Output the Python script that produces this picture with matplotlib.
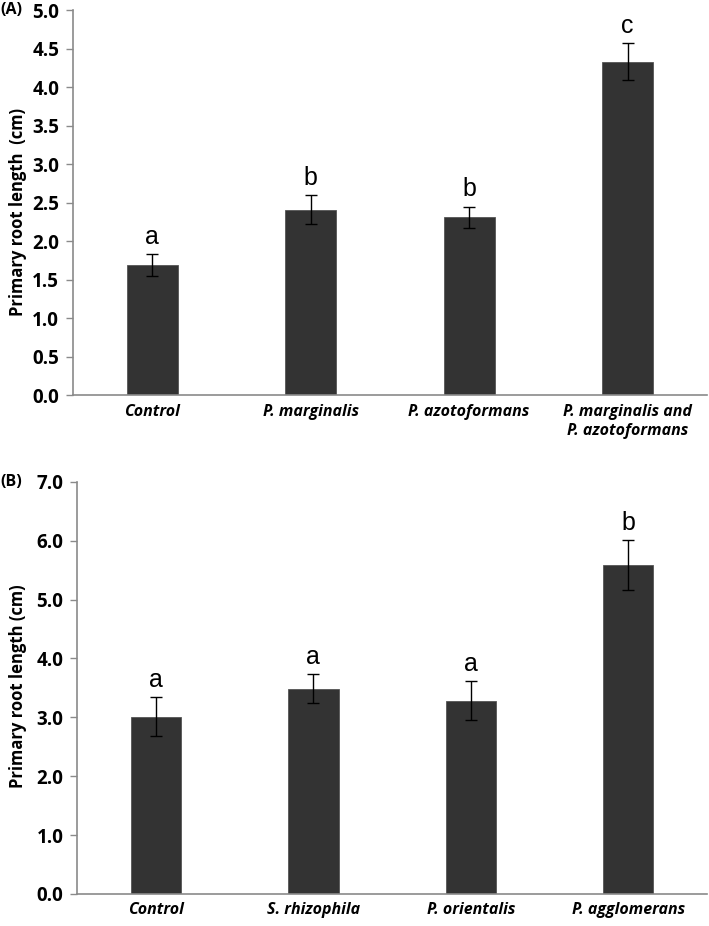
import matplotlib

matplotlib.use("Agg")
import matplotlib.pyplot as plt
import numpy as np

# Panel A
labels_a = ["Control", "P. marginalis", "P. azotoformans",
            "P. marginalis and\nP. azotoformans"]
means_a = [1.69, 2.41, 2.31, 4.33]
err_lo_a = [0.14, 0.18, 0.14, 0.23]
err_hi_a = [0.14, 0.19, 0.14, 0.24]
letters_a = ["a", "b", "b", "c"]

# Panel B
labels_b = ["Control", "S. rhizophila", "P. orientalis", "P. agglomerans"]
means_b = [3.01, 3.48, 3.28, 5.59]
err_lo_b = [0.32, 0.23, 0.32, 0.42]
err_hi_b = [0.33, 0.25, 0.33, 0.42]
letters_b = ["a", "a", "a", "b"]

BAR = "#333333"
SPINE = "#8a8a8a"
FONT = ["Open Sans", "DejaVu Sans"]
ARIAL = ["Liberation Sans", "DejaVu Sans"]

plt.rcParams["font.family"] = FONT


def panel(ax, labels, means, lo, hi, letters, ymax, step, ylabel, label_y, tag):
    x = np.arange(len(labels))
    ax.bar(x, means, width=0.32, color=BAR, edgecolor="#555555", linewidth=0.6, zorder=2)
    ax.errorbar(x, means, yerr=[lo, hi], fmt="none", ecolor="black",
                elinewidth=1.0, capsize=4, capthick=1.0, zorder=3)
    for xi, m, h, t in zip(x, means, hi, letters):
        ax.annotate(t, xy=(xi, m + h), xytext=(0, 4), textcoords="offset points",
                    ha="center", va="bottom", fontsize=18, family=ARIAL)
    ax.set_xlim(-0.5, len(labels) - 0.5)
    ax.set_ylim(0, ymax)
    ax.set_yticks(np.arange(0, ymax + step / 2, step))
    ax.yaxis.set_major_formatter(lambda v, _: f"{v:.1f}")
    ax.set_xticks(x)
    ax.set_xticklabels(labels, fontsize=11.5, fontweight="bold", style="italic",
                       linespacing=1.25)
    ax.tick_params(axis="x", length=0, pad=6)
    ax.tick_params(axis="y", length=5, width=1, color=SPINE, labelsize=13.5, pad=5)
    for lab in ax.get_yticklabels():
        lab.set_fontweight("bold")
    for s in ("top", "right"):
        ax.spines[s].set_visible(False)
    for s in ("left", "bottom"):
        ax.spines[s].set_color(SPINE)
        ax.spines[s].set_linewidth(1.2)
    fig = ax.figure
    bbox = ax.get_position()
    # y label placed at a fixed figure x so it sits against the left edge
    fig.text(0.012, bbox.y0 + label_y * bbox.height, ylabel, rotation=90,
             fontsize=12, fontweight="bold", ha="left", va="center")
    fig.text(0.0, bbox.y1, tag, fontsize=11.5, fontweight="bold",
             ha="left", va="center")


fig = plt.figure(figsize=(7.09, 9.26), dpi=100)
ax_a = fig.add_axes([0.103, 0.573, 0.894, 0.416])
ax_b = fig.add_axes([0.109, 0.0346, 0.888, 0.445])

panel(ax_a, labels_a, means_a, err_lo_a, err_hi_a, letters_a, 5.0, 0.5,
      "Primary root length  (cm)", 0.475, "(A)")
panel(ax_b, labels_b, means_b, err_lo_b, err_hi_b, letters_b, 7.0, 1.0,
      "Primary root length (cm)", 0.505, "(B)")

fig.savefig("out.png", dpi=100)
